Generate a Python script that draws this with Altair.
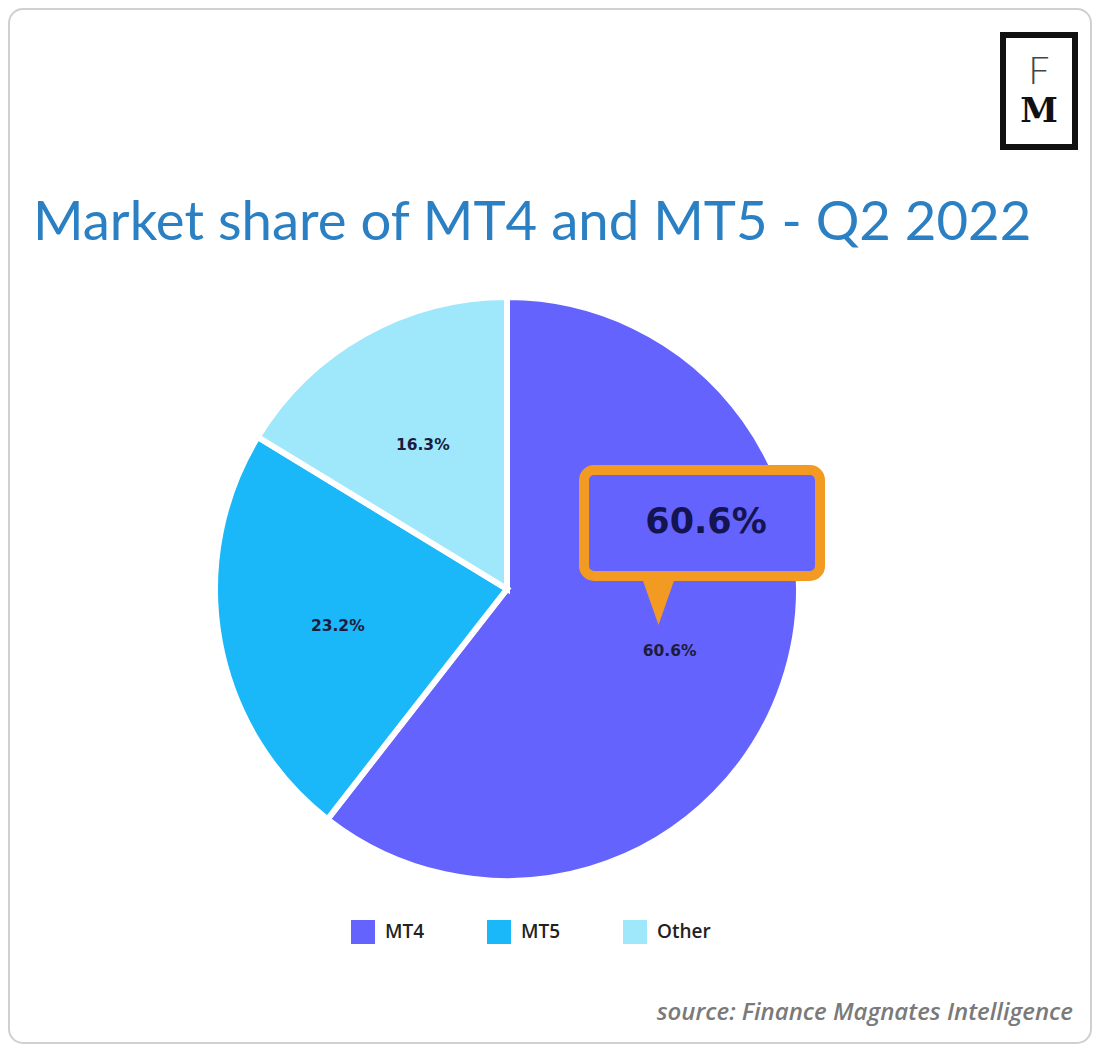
import altair as alt
import pandas as pd

# ---- data ----
platforms = ["MT4", "MT5", "Other"]
shares = [60.6, 23.2, 16.3]
share_labels = ["60.6%", "23.2%", "16.3%"]
slice_order = [1, 2, 3]
colors = ["#6563fe", "#1bb8f9", "#9fe8fc"]

title_text = "Market share of MT4 and MT5 - Q2 2022"
source_text = "source: Finance Magnates Intelligence"
callout_text = "60.6%"

df = pd.DataFrame({"platform": platforms, "share": shares,
                   "label": share_labels, "order": slice_order})
one = pd.DataFrame({"k": [0]})

W, H = 1084, 1036
CX, CY = 499, 581

base = alt.Chart(df)

pie = base.mark_arc(outerRadius=292, stroke="white", strokeWidth=6).encode(
    theta=alt.Theta("share:Q", stack=True),
    order=alt.Order("order:Q"),
    color=alt.Color(
        "platform:N",
        scale=alt.Scale(domain=platforms, range=colors),
        legend=alt.Legend(
            title=None, orient="none", direction="horizontal",
            legendX=343, legendY=912, symbolType="square", symbolSize=576,
            symbolStrokeWidth=0, labelFont="Open Sans", labelFontSize=19,
            labelFontWeight=600, labelColor="#222222", labelOffset=10,
            columnPadding=62, padding=0,
        ),
    ),
    x=alt.value(CX), y=alt.value(CY),
)

labels = base.mark_text(radius=172, dy=6, font="DejaVu Sans", fontWeight="bold",
                        fontSize=15.5, color="#1c1c40").encode(
    theta=alt.Theta("share:Q", stack=True),
    order=alt.Order("order:Q"),
    text="label:N",
    x=alt.value(CX), y=alt.value(CY),
)

ann = alt.Chart(one)

callout_box = ann.mark_rect(cornerRadius=10, stroke="#f29a22", strokeWidth=10,
                            fill="#6563fe").encode(
    x=alt.value(576), x2=alt.value(812), y=alt.value(462), y2=alt.value(568))

pointer = ann.mark_point(shape="M-1,-1.45L1,-1.45L0,1.4Z", size=1369,
                         filled=True, color="#f29a22", opacity=1).encode(
    x=alt.value(650.5), y=alt.value(591))

callout_label = ann.mark_text(font="DejaVu Sans", fontWeight="bold", fontSize=35,
                              color="#141450", baseline="middle").encode(
    x=alt.value(698), y=alt.value(514), text=alt.value(callout_text))

title = ann.mark_text(font="Lato", fontSize=54.5, color="#2a80c2", align="left",
                      baseline="alphabetic").encode(
    x=alt.value(25), y=alt.value(232), text=alt.value(title_text))

logo_box = ann.mark_rect(fill="white", stroke="#111111", strokeWidth=6).encode(
    x=alt.value(995), x2=alt.value(1067), y=alt.value(27), y2=alt.value(139))

logo_f = ann.mark_text(font="Lato", fontWeight=300, fontSize=37, color="#444444",
                       baseline="alphabetic").encode(
    x=alt.value(1031), y=alt.value(76), text=alt.value("F"))

logo_m = ann.mark_text(font="DejaVu Serif", fontWeight="bold", fontSize=34,
                       color="#111111", baseline="alphabetic").encode(
    x=alt.value(1031), y=alt.value(114), text=alt.value("M"))

source = ann.mark_text(font="Open Sans", fontStyle="italic", fontWeight=600,
                       fontSize=24, color="#7a7a7a", align="right",
                       baseline="alphabetic").encode(
    x=alt.value(1065), y=alt.value(1012), text=alt.value(source_text))

card = ann.mark_rect(cornerRadius=14, fill=None, stroke="#cfcfd4",
                     strokeWidth=2).encode(
    x=alt.value(1), x2=alt.value(W - 1), y=alt.value(1), y2=alt.value(H - 1))

chart = alt.layer(
    card, pie, labels, callout_box, pointer, callout_label,
    title, logo_box, logo_f, logo_m, source,
).properties(
    width=W, height=H, padding=0,
    autosize=alt.AutoSizeParams(type="none"),
    background="white",
).configure_view(stroke=None)

chart.save("out.html", embed_options={"renderer": "svg", "actions": False})
